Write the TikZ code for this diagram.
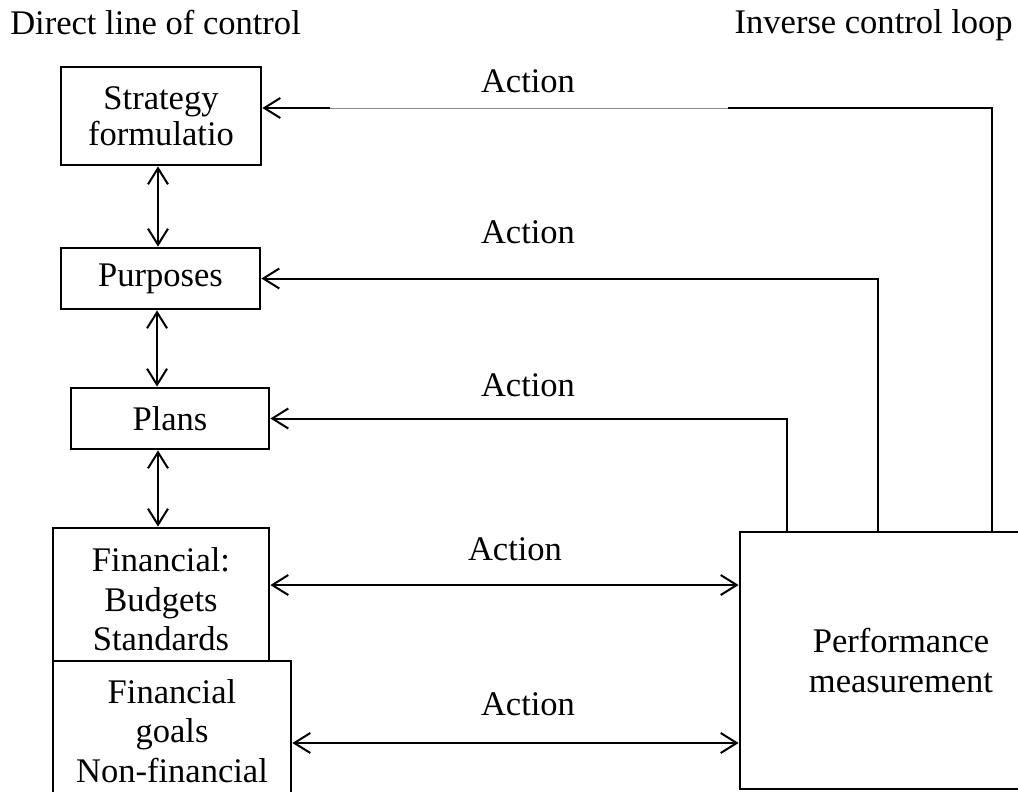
\documentclass[tikz,border=0pt]{standalone}
\usepackage{fontspec}
\setmainfont{Liberation Serif}
\usetikzlibrary{arrows.meta}
\begin{document}
\begin{tikzpicture}[x=0.75pt,y=-0.75pt,
  every node/.style={font=\fontsize{25.9}{29.6}\selectfont},
  block/.style={draw,line width=2.1pt,inner sep=0pt,align=center,fill=white},
  link/.style={line width=1.5pt},
  tipend/.style={link,-{Straight Barb[length=12pt,width=15pt,line width=1.5pt]}},
  tipboth/.style={link,{Straight Barb[length=12pt,width=15pt,line width=1.5pt]}-{Straight Barb[length=12pt,width=15pt,line width=1.5pt]}},
  faint/.style={line width=0.6pt,draw=black!45},
  caption/.style={anchor=base,inner sep=0pt}]
\useasboundingbox (0,0) rectangle (1018,792);
\clip (0,0) rectangle (1018,792);

% headings
\node[caption,anchor=base west] (direct) at (10,35) {Direct line of control};
\node[caption,anchor=base east] (inverse) at (1013,34) {Inverse control loop};

% direct line of control
\node[block,minimum width=150pt,minimum height=73.5pt,
      font=\fontsize{25.9}{27}\selectfont] (strat) at (161,116) {Strategy\\formulatio};
\node[block,minimum width=149.25pt,minimum height=45.75pt] (purp) at (160.5,278.5) {Purposes};
\node[block,minimum width=148.5pt,minimum height=45.75pt] (plans) at (170,418.5) {Plans};
\node[block,minimum width=162pt,minimum height=99.75pt] (fin) at (161,594.5)
  {\rule{0pt}{25pt}Financial:\\Budgets\\Standards};
\node[block,minimum width=178.5pt,minimum height=105pt] (goals) at (172,731) {Financial\\goals\\Non-financial};

% inverse control loop
\node[block,minimum width=241.5pt,minimum height=192.75pt] (perf) at (901,660.5) {Performance\\measurement};

% links down the direct line
\draw[tipboth] ([xshift=-2.25pt]strat.south) -- ([xshift=-2.25pt]strat.south |- purp.north);
\draw[tipboth] ([xshift=-2.6pt]purp.south) -- ([xshift=-2.6pt]purp.south |- plans.north);
\draw[tipboth] ([xshift=-9pt]plans.south) -- ([xshift=-9pt]plans.south |- fin.north);

% two-way actions with performance measurement
\draw[tipboth] ([yshift=7.1pt]fin.east) -- ([yshift=7.1pt]fin.east -| perf.west);
\draw[tipboth] ([yshift=-9pt]goals.east) -- ([yshift=-9pt]goals.east -| perf.west);

% feedback actions from performance measurement
\draw[tipend] ([xshift=36pt]perf.north west) |- (plans.east);
\draw[tipend] ([xshift=104.25pt]perf.north west) |- (purp.east);
\coordinate (gapR) at (728,108);
\coordinate (gapL) at (330,108);
\draw[link] ([xshift=189.75pt]perf.north west) |- (gapR);
\draw[faint] (gapR) -- (gapL);
\draw[tipend] (gapL) -- ([yshift=6pt]strat.east);

% action labels
\node[caption] (act1) at (528,93) {Action};
\node[caption] (act2) at (528,243) {Action};
\node[caption] (act3) at (528,396) {Action};
\node[caption] (act4) at (515,560) {Action};
\node[caption] (act5) at (528,715) {Action};
\end{tikzpicture}
\end{document}
